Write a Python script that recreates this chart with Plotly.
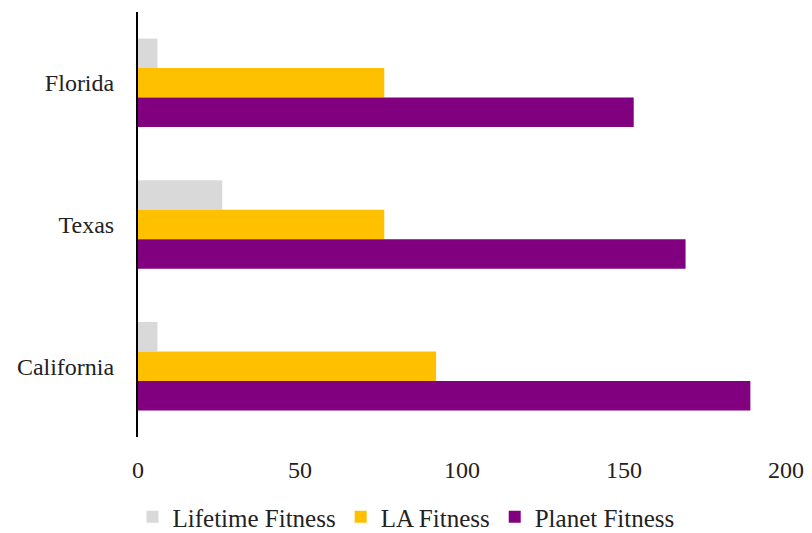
import plotly.graph_objects as go

categories = ["Florida", "Texas", "California"]
lifetime = [6, 26, 6]
la_fitness = [76, 76, 92]
planet = [153, 169, 189]
x_ticks = [0, 50, 100, 150, 200]

series = [
    ("Lifetime Fitness", lifetime, "#D9D9D9"),
    ("LA Fitness", la_fitness, "#FFC000"),
    ("Planet Fitness", planet, "#800080"),
]

fig = go.Figure()
for name, vals, color in series:
    fig.add_trace(go.Bar(y=categories, x=vals, name=name, orientation="h",
                         marker=dict(color=color, line=dict(width=0))))

font_family = "Liberation Serif, Times New Roman, serif"
fs = 24
fig.update_layout(
    width=812, height=533,
    margin=dict(l=138, r=26, t=12, b=96),
    barmode="group", bargap=0.375, bargroupgap=0,
    plot_bgcolor="white", paper_bgcolor="white",
    font=dict(family=font_family, size=fs, color="#222222"),
    legend=dict(orientation="h", x=0.5, xanchor="center", xref="container",
                y=16 / 533, yanchor="middle", yref="container",
                font=dict(size=25, family=font_family), traceorder="normal",
                itemwidth=30, tracegroupgap=0),
    xaxis=dict(range=[0, 200], tickvals=x_ticks, showgrid=False, zeroline=False,
               showline=False, ticks="", ticklabelstandoff=16, automargin=False,
               tickfont=dict(size=fs)),
    yaxis=dict(categoryorder="array", categoryarray=categories, autorange="reversed",
               showline=True, linecolor="black", linewidth=2, ticks="", automargin=False,
               showgrid=False, ticklabelstandoff=17, tickfont=dict(size=fs)),
)

fig.write_html("out.html")
